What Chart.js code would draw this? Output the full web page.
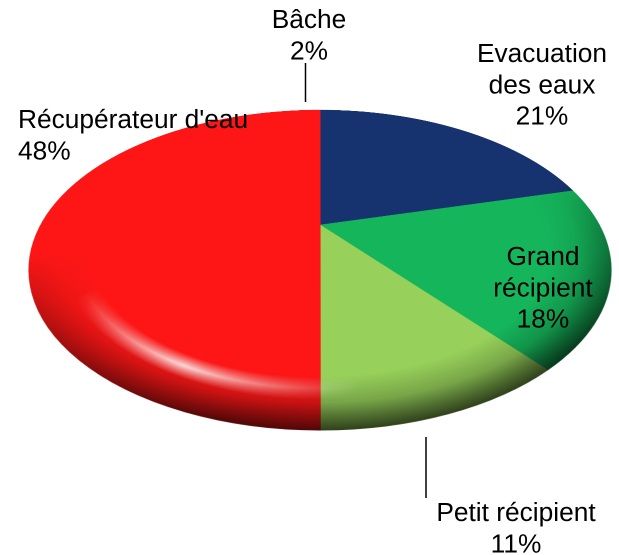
<!DOCTYPE html>
<html>
<head>
<meta charset="utf-8">
<script src="https://cdn.jsdelivr.net/npm/chart.js@4"></script>
<style>
  html, body { margin: 0; padding: 0; background: #fff; overflow: hidden; }
  #wrap { position: relative; width: 619px; height: 555px; }
</style>
</head>
<body>
<div id="wrap"><canvas id="pie"></canvas></div>
<script>
// Clockwise from the top of the pie
const categories = ['Evacuation des eaux', 'Grand récipient', 'Petit récipient', "Récupérateur d'eau", 'Bâche'];
const percents = [21, 18, 11, 48, 2];
const sliceColors = ['#17336f', '#15b55b', '#97d05a', '#fe1616', '#fe1616'];

const DPR = 2;

// Where the flat pie ends up on the page (perspective look)
const apexX = 320, apexY = 225;
const topReach = 115, bottomReach = 205, halfWidth = 291;
const persp = -(bottomReach - topReach) / (bottomReach + topReach);
const B = topReach * (1 - persp);
const A = halfWidth * Math.sqrt(1 - persp * persp);

function layerLike(cv) {
    const c = document.createElement('canvas');
    c.width = cv.width;
    c.height = cv.height;
    return c;
}

// Dark rim towards the lower right, plus the glossy streak at the lower left
function shade(tctx, cv, cx, cy, R) {
    const dark = layerLike(cv);
    const d = dark.getContext('2d');
    let g = d.createRadialGradient(cx, cy, R * 0.8, cx, cy, R);
    g.addColorStop(0, 'rgba(0,0,0,0)');
    g.addColorStop(0.5, 'rgba(0,0,0,0.2)');
    g.addColorStop(1, 'rgba(0,0,0,0.68)');
    d.fillStyle = g;
    d.fillRect(0, 0, cv.width, cv.height);
    d.globalCompositeOperation = 'destination-in';
    g = d.createLinearGradient(cx - 0.3 * R, cy, cx - 0.05 * R, cy + 0.9 * R);
    g.addColorStop(0, 'rgba(0,0,0,0)');
    g.addColorStop(1, 'rgba(0,0,0,1)');
    d.fillStyle = g;
    d.fillRect(0, 0, cv.width, cv.height);

    const shine = layerLike(cv);
    const s = shine.getContext('2d');
    g = s.createRadialGradient(cx, cy, R * 0.8, cx, cy, R * 0.89);
    g.addColorStop(0, 'rgba(255,255,255,0)');
    g.addColorStop(0.5, 'rgba(255,255,255,1)');
    g.addColorStop(1, 'rgba(255,255,255,0)');
    s.fillStyle = g;
    s.fillRect(0, 0, cv.width, cv.height);
    s.globalCompositeOperation = 'destination-in';
    const hx = cx - 0.38 * R, hy = cy + 0.74 * R;
    g = s.createRadialGradient(hx, hy, 0, hx, hy, 0.5 * R);
    g.addColorStop(0, 'rgba(0,0,0,0.85)');
    g.addColorStop(1, 'rgba(0,0,0,0)');
    s.fillStyle = g;
    s.fillRect(0, 0, cv.width, cv.height);

    tctx.globalCompositeOperation = 'source-atop';
    tctx.drawImage(dark, 0, 0);
    tctx.drawImage(shine, 0, 0);
    tctx.globalCompositeOperation = 'source-over';
}

// Takes the round pie chart.js just drew and redraws it row by row in perspective
const perspectivePlugin = {
    id: 'perspective',
    afterDatasetsDraw(chart) {
        const cv = chart.canvas;
        const ctx = chart.ctx;
        const arc = chart.getDatasetMeta(0).data[0];
        const R = arc.outerRadius * DPR, cx = arc.x * DPR, cy = arc.y * DPR;

        const tmp = layerLike(cv);
        const tctx = tmp.getContext('2d');
        tctx.drawImage(cv, 0, 0);
        shade(tctx, cv, cx, cy, R);

        ctx.save();
        ctx.setTransform(1, 0, 0, 1, 0, 0);
        ctx.clearRect(0, 0, cv.width, cv.height);
        const toV = (t) => t / (B - persp * t);
        const first = (apexY - topReach - 2) * DPR;
        const last = (apexY + bottomReach + 2) * DPR;
        for (let row = first; row < last; row++) {
            const v0 = toV(row / DPR - apexY);
            const v1 = toV((row + 1) / DPR - apexY);
            const w = 1 + persp * (v0 + v1) / 2;
            const half = 1.02 * A * DPR / w;
            ctx.drawImage(tmp, cx - 1.02 * R, cy + v0 * R, 2.04 * R, (v1 - v0) * R,
                apexX * DPR - half, row, half * 2, 1);
        }
        ctx.restore();
    }
};

// Text lines and leader lines go on top of the pie
const labelBlocks = [
    { lines: ['Bâche', '2%'], x: 309, y: 28, align: 'center' },
    { lines: ['Evacuation', 'des eaux', '21%'], x: 542, y: 62, align: 'center' },
    { lines: ['Grand', 'récipient', '18%'], x: 543, y: 265, align: 'center' },
    { lines: ['Petit récipient', '11%'], x: 516, y: 521, align: 'center' },
    { lines: ["Récupérateur d'eau", '48%'], x: 18, y: 128, align: 'left' }
];
const leaders = [[305.5, 63, 305.5, 102], [426, 437, 426, 498]];

const labelPlugin = {
    id: 'labels',
    afterDraw(chart) {
        const ctx = chart.ctx;
        ctx.save();
        ctx.fillStyle = '#000';
        ctx.font = '26.3px "Liberation Sans", Arial, sans-serif';
        ctx.textBaseline = 'alphabetic';
        labelBlocks.forEach((b) => {
            ctx.textAlign = b.align;
            b.lines.forEach((line, i) => ctx.fillText(line, b.x, b.y + i * 31.3));
        });
        ctx.strokeStyle = '#000';
        ctx.lineWidth = 1.5;
        leaders.forEach((l) => {
            ctx.beginPath();
            ctx.moveTo(l[0], l[1]);
            ctx.lineTo(l[2], l[3]);
            ctx.stroke();
        });
        ctx.restore();
    }
};

new Chart(document.getElementById('pie').getContext('2d'), {
    type: 'pie',
    data: {
        labels: categories,
        datasets: [{
            data: percents,
            backgroundColor: sliceColors,
            borderColor: sliceColors,
            borderWidth: 1
        }]
    },
    options: {
        responsive: true,
        maintainAspectRatio: false,
        devicePixelRatio: DPR,
        animation: false,
        events: [],
        plugins: {
            legend: { display: false },
            tooltip: { enabled: false }
        }
    },
    plugins: [perspectivePlugin, labelPlugin]
});
</script>
</body>
</html>
